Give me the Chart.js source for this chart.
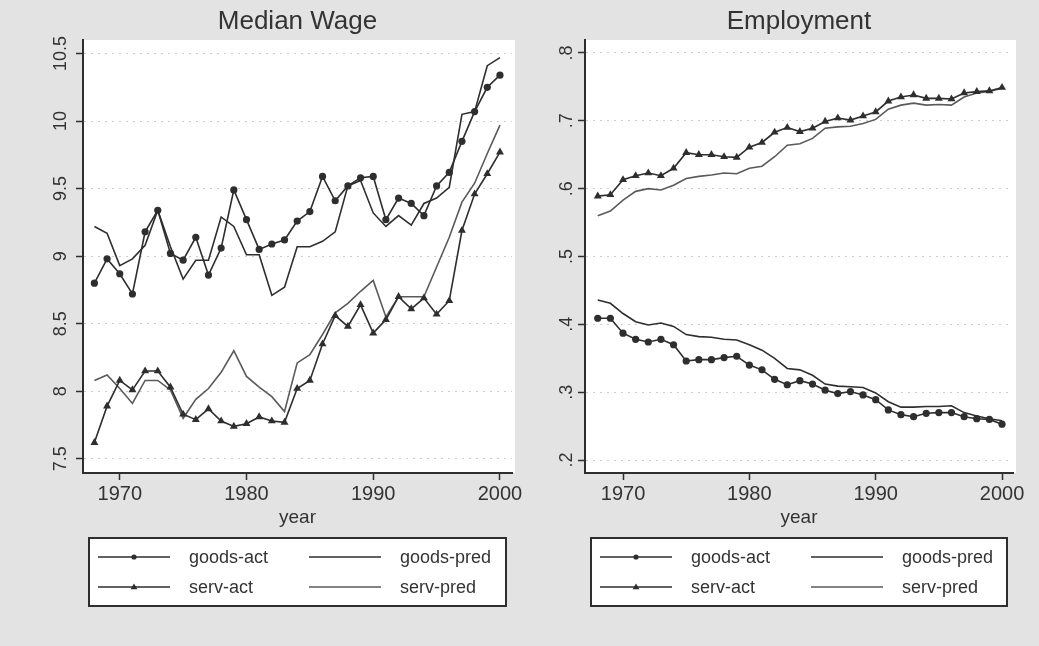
<!DOCTYPE html>
<html>
<head>
<meta charset="utf-8">
<script src="https://cdn.jsdelivr.net/npm/chart.js@4.4.1/dist/chart.umd.min.js"></script>
<style>
    body { margin: 0; width: 1039px; height: 646px; overflow: hidden; position: relative; background: #e3e3e3; }
    #wageChart { position: absolute; left: 0; top: 0; }
    #empChart { position: absolute; left: 520px; top: 0; }
</style>
</head>
<body>
<canvas id="wageChart" width="532" height="646"></canvas>
<canvas id="empChart" width="519" height="646"></canvas>
<script>
const years = [1968, 1969, 1970, 1971, 1972, 1973, 1974, 1975, 1976, 1977, 1978,
    1979, 1980, 1981, 1982, 1983, 1984, 1985, 1986, 1987, 1988, 1989, 1990,
    1991, 1992, 1993, 1994, 1995, 1996, 1997, 1998, 1999, 2000];
const yearTicks = [1970, 1980, 1990, 2000];

// Median wage panel
const wageGoodsAct = [8.80, 8.98, 8.87, 8.72, 9.18, 9.34, 9.02, 8.97, 9.14, 8.86, 9.06,
    9.49, 9.27, 9.05, 9.09, 9.12, 9.26, 9.33, 9.59, 9.41, 9.52, 9.58, 9.59,
    9.27, 9.43, 9.39, 9.30, 9.52, 9.62, 9.85, 10.07, 10.25, 10.34];
const wageGoodsPred = [9.22, 9.17, 8.93, 8.98, 9.08, 9.34, 9.07, 8.83, 8.97, 8.97, 9.29,
    9.22, 9.01, 9.01, 8.71, 8.77, 9.07, 9.07, 9.11, 9.18, 9.52, 9.56, 9.32,
    9.22, 9.30, 9.23, 9.39, 9.43, 9.51, 10.05, 10.07, 10.41, 10.47];
const wageServAct = [7.62, 7.89, 8.08, 8.01, 8.15, 8.15, 8.03, 7.83, 7.79, 7.87, 7.78,
    7.74, 7.76, 7.81, 7.78, 7.77, 8.02, 8.08, 8.35, 8.56, 8.48, 8.64, 8.43,
    8.53, 8.70, 8.61, 8.69, 8.57, 8.67, 9.19, 9.46, 9.61, 9.77];
const wageServPred = [8.08, 8.12, 8.02, 7.91, 8.08, 8.08, 8.01, 7.80, 7.94, 8.02, 8.14,
    8.30, 8.11, 8.03, 7.96, 7.85, 8.21, 8.27, 8.42, 8.58, 8.65, 8.74, 8.82,
    8.55, 8.70, 8.70, 8.70, 8.92, 9.14, 9.40, 9.54, 9.76, 9.97];
const wageTicks = [7.5, 8, 8.5, 9, 9.5, 10, 10.5];

// Employment panel
const empGoodsAct = [0.409, 0.409, 0.387, 0.378, 0.374, 0.378, 0.370, 0.346, 0.348, 0.348, 0.351,
    0.353, 0.340, 0.333, 0.319, 0.311, 0.317, 0.312, 0.303, 0.298, 0.301, 0.296, 0.289,
    0.274, 0.267, 0.264, 0.269, 0.270, 0.270, 0.264, 0.261, 0.260, 0.253];
const empGoodsPred = [0.436, 0.431, 0.416, 0.404, 0.399, 0.402, 0.397, 0.385, 0.382, 0.381, 0.378,
    0.377, 0.370, 0.362, 0.350, 0.335, 0.333, 0.325, 0.312, 0.309, 0.308, 0.307, 0.299,
    0.286, 0.278, 0.278, 0.279, 0.279, 0.280, 0.270, 0.265, 0.261, 0.258];
const empServAct = [0.589, 0.591, 0.613, 0.619, 0.623, 0.619, 0.630, 0.653, 0.650, 0.650, 0.647,
    0.646, 0.661, 0.668, 0.683, 0.690, 0.684, 0.689, 0.699, 0.704, 0.701, 0.707, 0.713,
    0.729, 0.735, 0.738, 0.733, 0.733, 0.732, 0.741, 0.743, 0.744, 0.749];
const empServPred = [0.560, 0.567, 0.583, 0.596, 0.600, 0.598, 0.605, 0.615, 0.618, 0.620, 0.623,
    0.622, 0.630, 0.633, 0.647, 0.664, 0.666, 0.674, 0.689, 0.691, 0.692, 0.696, 0.702,
    0.717, 0.723, 0.726, 0.723, 0.724, 0.723, 0.735, 0.741, 0.743, 0.748];
const empTicks = [0.2, 0.3, 0.4, 0.5, 0.6, 0.7, 0.8];

const INK = '#2e2e2e';
const FONT = '"Liberation Sans", Arial, sans-serif';

function toPoints(vals) {
    return vals.map((v, i) => ({ x: years[i], y: v }));
}

// white plot region behind the lines
const plotBg = {
    id: 'plotBg',
    beforeDraw(chart) {
        const a = chart.chartArea;
        chart.ctx.save();
        chart.ctx.fillStyle = '#ffffff';
        chart.ctx.fillRect(a.left, a.top, a.right - a.left + 3, a.bottom - a.top);
        chart.ctx.restore();
    }
};

function drawMarker(ctx, style, x, y, r) {
    ctx.beginPath();
    if (style === 'triangle') {
        ctx.moveTo(x, y - r);
        ctx.lineTo(x + r * 0.95, y + r * 0.6);
        ctx.lineTo(x - r * 0.95, y + r * 0.6);
        ctx.closePath();
    } else {
        ctx.arc(x, y, r, 0, Math.PI * 2);
    }
    ctx.fill();
}

// boxed two-column legend under the plot, like the original figure
const boxLegend = {
    id: 'boxLegend',
    afterDraw(chart) {
        const ctx = chart.ctx;
        const a = chart.chartArea;
        const bx = a.left + 6, bw = a.right - a.left - 12, by = 538, bh = 68;
        ctx.save();
        ctx.fillStyle = '#ffffff';
        ctx.fillRect(bx, by, bw, bh);
        ctx.strokeStyle = INK;
        ctx.lineWidth = 2;
        ctx.strokeRect(bx, by, bw, bh);

        chart.data.datasets.forEach((ds, i) => {
            const col = i % 2, row = Math.floor(i / 2);
            const x0 = bx + 9 + col * 211;
            const y = by + 19 + row * 30;
            ctx.strokeStyle = ds.borderColor;
            ctx.lineWidth = ds.borderWidth;
            ctx.beginPath();
            ctx.moveTo(x0, y);
            ctx.lineTo(x0 + 72, y);
            ctx.stroke();
            if (ds.pointRadius > 0) {
                ctx.fillStyle = ds.borderColor;
                drawMarker(ctx, ds.pointStyle, x0 + 36, y, ds.pointRadius - 1);
            }
            ctx.fillStyle = '#333';
            ctx.font = '18px ' + FONT;
            ctx.textBaseline = 'middle';
            ctx.textAlign = 'left';
            ctx.fillText(ds.label, x0 + 91, y + 1);
        });
        ctx.restore();
    }
};

function makeChart(id, cfg) {
    const lineOpts = { borderWidth: 1.6, tension: 0, fill: false };
    return new Chart(document.getElementById(id), {
        type: 'line',
        data: {
            datasets: [
                Object.assign({ label: 'goods-act', data: toPoints(cfg.goodsAct), borderColor: INK,
                    backgroundColor: INK, pointStyle: 'circle', pointRadius: 3.6, pointBorderWidth: 0 }, lineOpts),
                Object.assign({ label: 'goods-pred', data: toPoints(cfg.goodsPred), borderColor: INK,
                    pointRadius: 0 }, lineOpts),
                Object.assign({ label: 'serv-act', data: toPoints(cfg.servAct), borderColor: INK,
                    backgroundColor: INK, pointStyle: 'triangle', pointRadius: 4.6, pointBorderWidth: 0 }, lineOpts),
                Object.assign({ label: 'serv-pred', data: toPoints(cfg.servPred), borderColor: '#5a5a5a',
                    pointRadius: 0 }, lineOpts)
            ]
        },
        options: {
            responsive: false,
            animation: false,
            devicePixelRatio: 1,
            layout: { padding: { left: 0, right: cfg.padRight, top: 0, bottom: 117 } },
            plugins: {
                legend: { display: false },
                tooltip: { enabled: false },
                title: {
                    display: true, text: cfg.title, fullSize: false, color: '#333',
                    font: { family: FONT, size: 26, weight: 'normal' },
                    padding: { top: 6, bottom: 2.8 }
                }
            },
            scales: {
                x: {
                    type: 'linear', min: cfg.xMin, max: cfg.xMax,
                    afterBuildTicks: s => { s.ticks = yearTicks.map(v => ({ value: v })); },
                    afterFit: s => { s.height = 56; s.paddingLeft = 0; s.paddingRight = 0; },
                    grid: { drawOnChartArea: false, tickLength: 7, tickColor: INK, tickWidth: 1.5 },
                    border: { color: INK, width: 2 },
                    ticks: { color: '#333', padding: 2, maxRotation: 0, font: { family: FONT, size: 20 },
                        callback: v => String(v) },
                    title: { display: true, text: 'year', color: '#333', font: { family: FONT, size: 19 },
                        padding: { top: 0, bottom: 0 } }
                },
                y: {
                    min: cfg.yMin, max: cfg.yMax,
                    afterBuildTicks: s => { s.ticks = cfg.yTicks.map(v => ({ value: v })); },
                    afterFit: s => { s.width = cfg.axisLeft; },
                    grid: { color: 'rgba(0,0,0,0.2)', tickColor: INK, tickLength: 7, tickWidth: 1.5, tickBorderDash: [] },
                    border: { color: INK, width: 2, dash: [2, 5] },
                    ticks: { color: '#333', minRotation: 90, maxRotation: 90, crossAlign: 'center',
                        padding: cfg.yPad, font: { family: FONT, size: 18 }, callback: cfg.fmt }
                }
            }
        },
        plugins: [plotBg, boxLegend]
    });
}

makeChart('wageChart', {
    title: 'Median Wage',
    goodsAct: wageGoodsAct, goodsPred: wageGoodsPred, servAct: wageServAct, servPred: wageServPred,
    yTicks: wageTicks, yMin: 7.395, yMax: 10.6, xMin: 1967.1, xMax: 2000.95,
    axisLeft: 83, padRight: 20, yPad: -3,
    fmt: v => String(v)
});

makeChart('empChart', {
    title: 'Employment',
    goodsAct: empGoodsAct, goodsPred: empGoodsPred, servAct: empServAct, servPred: empServPred,
    yTicks: empTicks, yMin: 0.181, yMax: 0.819, xMin: 1966.99, xMax: 2000.87,
    axisLeft: 65, padRight: 26, yPad: 3,
    fmt: v => v.toFixed(1).replace(/^0/, '')
});
</script>
</body>
</html>
